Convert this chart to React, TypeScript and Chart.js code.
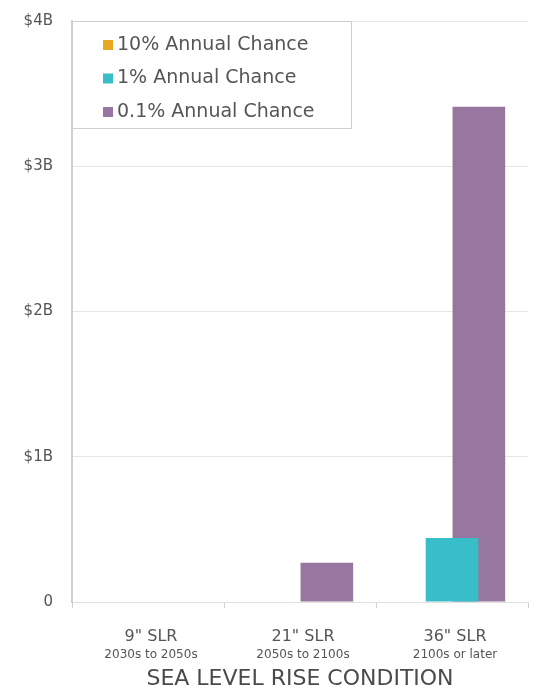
import React, { useEffect, useRef } from "react";
import { Chart, registerables } from "chart.js";

Chart.register(...registerables);

const categories = ['9" SLR', '21" SLR', '36" SLR'];
const subLabels = ["2030s to 2050s", "2050s to 2100s", "2100s or later"];
const series10 = [0, 0, 0];
const series1 = [0, 0, 0.44];
const series01 = [0, 0.27, 3.41];
const seriesNames = ["10% Annual Chance", "1% Annual Chance", "0.1% Annual Chance"];
const yTickLabels: Record<number, string> = { 0: "0", 1: "$1B", 2: "$2B", 3: "$3B", 4: "$4B" };

const FONT = "'DejaVu Sans', sans-serif";
const GREY = "#555555";

const legendPlugin = {
  id: "boxLegend",
  afterDraw(chart: any) {
    const ctx = chart.ctx;
    const area = chart.chartArea;
    const left = area.left;
    const top = area.top;
    const w = 279;
    const h = 107;
    ctx.save();
    ctx.strokeStyle = "#cfcfcf";
    ctx.lineWidth = 1;
    ctx.fillStyle = "#ffffff";
    ctx.fillRect(left + 0.5, top + 0.5, w, h);
    ctx.strokeRect(left + 0.5, top + 0.5, w, h);
    ctx.font = "19px " + FONT;
    ctx.textBaseline = "middle";
    ctx.textAlign = "left";
    chart.data.datasets.forEach((ds: any, i: number) => {
      const y = top + 24 + i * 33.5;
      ctx.fillStyle = ds.backgroundColor;
      ctx.fillRect(left + 31, y - 5, 10, 10);
      ctx.fillStyle = GREY;
      ctx.fillText(ds.label, left + 45, y);
    });
    ctx.restore();
  },
};

const xLabelPlugin = {
  id: "xLabels",
  afterDraw(chart: any) {
    const ctx = chart.ctx;
    const xs = chart.scales.x;
    const bottom = chart.chartArea.bottom;
    ctx.save();
    ctx.textAlign = "center";
    ctx.textBaseline = "middle";
    ctx.fillStyle = GREY;
    chart.data.labels.forEach((lab: string, i: number) => {
      const x = xs.getPixelForValue(i) + 3;
      ctx.font = "16px " + FONT;
      ctx.fillText(lab, x, bottom + 35);
      ctx.font = "12px " + FONT;
      ctx.fillText(subLabels[i], x, bottom + 53);
    });
    ctx.restore();
  },
};

export default function App() {
  const ref = useRef<HTMLCanvasElement>(null);
  useEffect(() => {
    document.body.style.margin = "0";
    const chart = new Chart(ref.current!, {
      type: "bar",
      data: {
        labels: categories,
        datasets: [
          { label: seriesNames[0], data: series10, backgroundColor: "#e9a823" },
          { label: seriesNames[1], data: series1, backgroundColor: "#38bec8" },
          { label: seriesNames[2], data: series01, backgroundColor: "#97769f" },
        ],
      },
      options: {
        animation: false,
        responsive: false,
        maintainAspectRatio: false,
        layout: { padding: { top: 21, right: 17, left: 0, bottom: 0 } },
        datasets: { bar: { categoryPercentage: 0.53, barPercentage: 1.96 } },
        plugins: { legend: { display: false }, tooltip: { enabled: false } },
        scales: {
          x: {
            grid: { display: true, drawOnChartArea: false, color: "#d0d0d0", tickLength: 6, offset: true },
            border: { display: true, color: "#e0e0e0", width: 1 },
            ticks: { display: false },
            title: {
              display: true,
              text: "SEA LEVEL RISE CONDITION",
              color: "#4a4a4a",
              font: { family: FONT, size: 22 },
              padding: { top: 0, bottom: 0 },
            },
            afterFit(s: any) {
              s.height = 90;
              s.paddingLeft = 0;
              s.paddingRight = 0;
            },
          },
          y: {
            min: 0,
            max: 4,
            ticks: {
              stepSize: 1,
              color: GREY,
              font: { family: FONT, size: 15 },
              padding: 19,
              callback: (v: any) => yTickLabels[v as number] ?? "",
            },
            grid: { color: "#e6e6e6", tickLength: 0 },
            border: { display: true, color: "#d0d0d0", width: 2 },
            afterFit(s: any) {
              s.width = 72;
              s.paddingTop = 0;
              s.paddingBottom = 0;
            },
          },
        },
      },
      plugins: [legendPlugin, xLabelPlugin],
    });
    return () => chart.destroy();
  }, []);
  return <canvas ref={ref} width={545} height={692} style={{ display: "block" }} />;
}
